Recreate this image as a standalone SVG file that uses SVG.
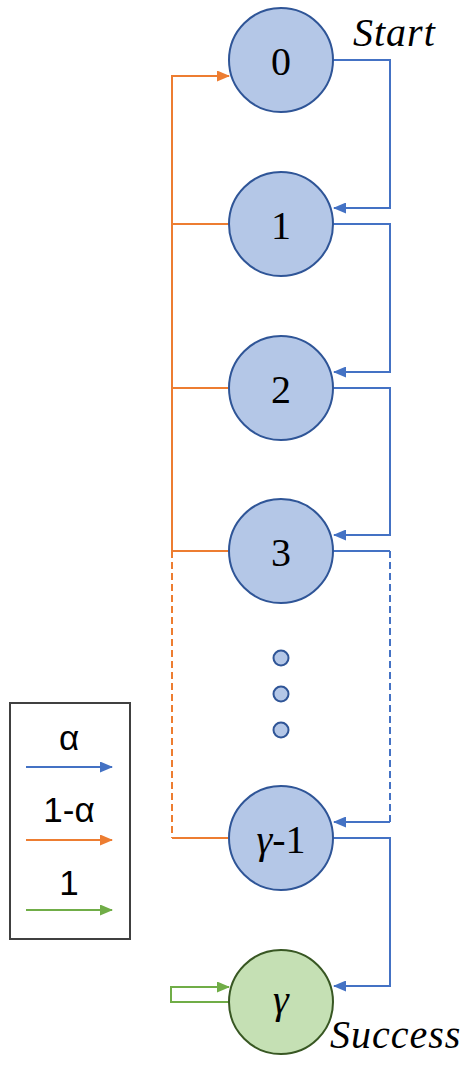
<svg xmlns="http://www.w3.org/2000/svg" width="475" height="1069" viewBox="0 0 475 1069">
<style>
.node{fill:#B4C7E7;stroke:#2F5597;stroke-width:2}
.gnode{fill:#C5E0B4;stroke:#385723;stroke-width:2}
.lbl{font-family:"Liberation Serif","DejaVu Serif",serif;font-size:40px;fill:#000;text-anchor:middle}
.it{font-family:"Liberation Serif","DejaVu Serif",serif;font-style:italic;font-size:40px;fill:#000}
.leg{font-family:"Liberation Sans","Open Sans",sans-serif;font-size:35px;fill:#000;text-anchor:middle}
.b{fill:none;stroke:#4472C4;stroke-width:2}
.o{fill:none;stroke:#ED7D31;stroke-width:2}
.g{fill:none;stroke:#70AD47;stroke-width:2}
.d{stroke-dasharray:7,4}
</style>
<defs>
<marker id="ab" markerUnits="userSpaceOnUse" markerWidth="13" markerHeight="11" refX="12" refY="5.5" orient="auto"><path d="M0,0 L13,5.5 L0,11 z" fill="#4472C4"/></marker>
<marker id="ao" markerUnits="userSpaceOnUse" markerWidth="13" markerHeight="11" refX="12" refY="5.5" orient="auto"><path d="M0,0 L13,5.5 L0,11 z" fill="#ED7D31"/></marker>
<marker id="ag" markerUnits="userSpaceOnUse" markerWidth="13" markerHeight="11" refX="12" refY="5.5" orient="auto"><path d="M0,0 L13,5.5 L0,11 z" fill="#70AD47"/></marker>
</defs>
<g id="connectors">
<path class="b" d="M333,60 H390 V208 H334" marker-end="url(#ab)"/>
<path class="b" d="M333,224 H390 V372 H334" marker-end="url(#ab)"/>
<path class="b" d="M333,388 H390 V535 H334" marker-end="url(#ab)"/>
<path class="b" d="M333,551 H390"/>
<path class="b d" d="M390,551 V822"/>
<path class="b" d="M390,822 H334" marker-end="url(#ab)"/>
<path class="b" d="M333,838 H390 V986 H334" marker-end="url(#ab)"/>
<path class="o" d="M172,551 V76 H229" marker-end="url(#ao)"/>
<path class="o" d="M229,224 H172 M229,388 H172 M229,551 H172 M229,838 H172"/>
<path class="o d" d="M172,551 V838"/>
<path class="g" d="M229,1002 H171 V987 H229" marker-end="url(#ag)"/>
</g>
<g id="n0"><circle class="node" cx="281" cy="60" r="52"/><text class="lbl" x="281" y="75">0</text></g>
<g id="n1"><circle class="node" cx="281" cy="224" r="52"/><text class="lbl" x="281" y="239">1</text></g>
<g id="n2"><circle class="node" cx="281" cy="388" r="52"/><text class="lbl" x="281" y="403">2</text></g>
<g id="n3"><circle class="node" cx="281" cy="551" r="52"/><text class="lbl" x="281" y="566">3</text></g>
<g id="dots"><circle class="node" cx="281" cy="658" r="7.5"/><circle class="node" cx="281" cy="694" r="7.5"/><circle class="node" cx="281" cy="730" r="7.5"/></g>
<g id="ng1"><circle class="node" cx="281" cy="838" r="52"/><text class="lbl" x="281" y="853"><tspan font-style="italic">γ</tspan>-1</text></g>
<g id="ng"><circle class="gnode" cx="281" cy="1002" r="52"/><text class="lbl" x="281" y="1013" font-style="italic">γ</text></g>
<text class="it" x="353" y="46" letter-spacing="1">Start</text>
<text class="it" x="330" y="1048" letter-spacing="1">Success</text>
<g id="legend">
<rect x="10" y="703" width="120" height="236" fill="#fff" stroke="#404040" stroke-width="2"/>
<text class="leg" x="69" y="750">α</text>
<path class="b" d="M26,767 H112" marker-end="url(#ab)"/>
<text class="leg" x="69" y="822">1-α</text>
<path class="o" d="M26,840 H112" marker-end="url(#ao)"/>
<text class="leg" x="69" y="895">1</text>
<path class="g" d="M26,910 H112" marker-end="url(#ag)"/>
</g>
</svg>
